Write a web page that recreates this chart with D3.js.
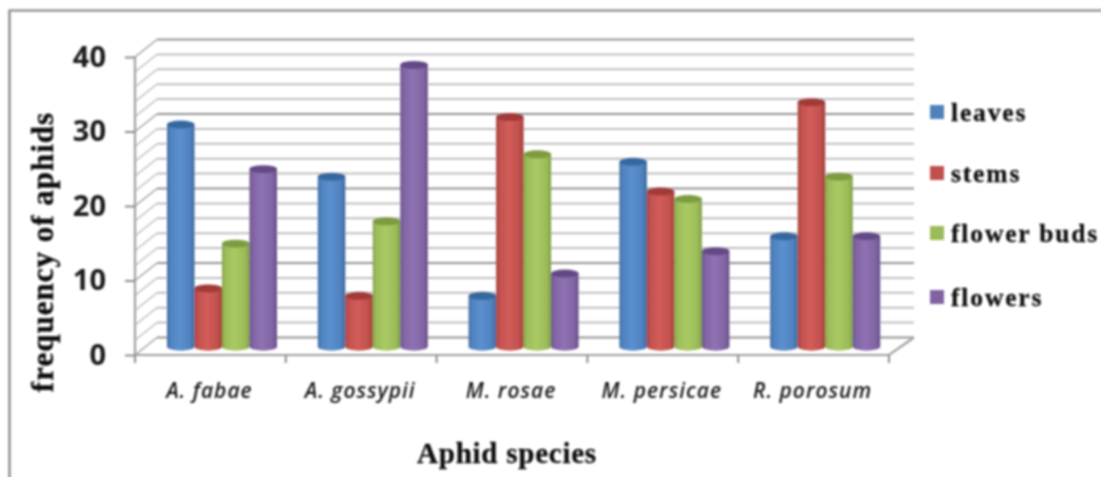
<!DOCTYPE html>
<html><head><meta charset="utf-8">
<script src="https://cdn.jsdelivr.net/npm/d3@7/dist/d3.min.js"></script>
<style>html,body{margin:0;padding:0;background:#fff;overflow:hidden}svg{display:block}</style>
</head><body><div id="c"></div>
<script>
const categories = ["A. fabae","A. gossypii","M. rosae","M. persicae","R. porosum"];
const seriesNames = ["leaves","stems","flower buds","flowers"];
const leaves = [30,23,7,25,15];
const stems = [8,7,31,21,33];
const flowerBuds = [14,17,26,20,23];
const flowers = [24,38,10,13,15];
const seriesValues = [leaves,stems,flowerBuds,flowers];
const colors = ["#4F81BD","#C0504D","#9BBB59","#8064A2"];
const darks = ["#36689f","#a23a37","#7d9c3f","#644a86"];
const lights = ["#5b90cf","#d25d5a","#a9ca63","#8f72b3"];
const yTicks = [0,10,20,30,40];
const W=1101,H=477;
const svg=d3.select("#c").append("svg").attr("width",W).attr("height",H);
const defs=svg.append("defs");
defs.append("filter").attr("id","soft").attr("x","-5%").attr("y","-5%").attr("width","110%").attr("height","110%")
  .append("feGaussianBlur").attr("stdDeviation",0.85);
colors.forEach((c,i)=>{
  const g=defs.append("linearGradient").attr("id","g"+i);
  [[0,darks[i]],[0.1,c],[0.45,lights[i]],[0.85,c],[1,darks[i]]].forEach(s=>g.append("stop").attr("offset",s[0]).attr("stop-color",s[1]));
});
const root=svg.append("g").attr("filter","url(#soft)");
root.append("path").attr("d",`M9.5,${H+5}V10.5H${W+5}`).attr("fill","none").attr("stroke","#808080").attr("stroke-width",2.2);
const left=135,right=889,depthX=25,depthY=17.5;
const x=d3.scaleBand().domain(categories).range([left,right]);
const y=d3.scaleLinear().domain([0,40]).range([355,57]);
const gridVals=d3.range(0,41,2);
const grid=root.append("g");
gridVals.forEach(v=>{
  const major=v%10===0;
  const col=major?"#949494":"#c0c0c0";
  grid.append("path").attr("d",`M${left},${y(v)}L${left+22},${y(v)-depthY}`).attr("fill","none").attr("stroke",major?"#a0a0a0":"#c4c4c4").attr("stroke-width",1.5);
  grid.append("path").attr("d",`M${left+22},${y(v)-depthY}H${right+depthX}`).attr("fill","none").attr("stroke",col).attr("stroke-width",2);
});
root.append("path").attr("d",`M${left},${y(40)}V${y(0)}H${right}L${right+depthX},${y(0)-depthY}`).attr("fill","none").attr("stroke","#a0a0a0").attr("stroke-width",2.2);
const yAxis=root.append("g").attr("transform",`translate(${left},0)`).call(d3.axisLeft(y).tickValues(yTicks).tickSize(10).tickPadding(19));
yAxis.select(".domain").remove();
yAxis.selectAll("line").attr("stroke","#8c8c8c").attr("stroke-width",2);
yAxis.selectAll("text").attr("font-family","'Open Sans'").attr("font-weight",700).attr("font-size",29).attr("fill","#1a1a1a");
const xTickPos=[...categories.map(c=>x(c)),right];
xTickPos.forEach(p=>root.append("line").attr("x1",p).attr("x2",p).attr("y1",y(0)).attr("y2",y(0)+8).attr("stroke","#8c8c8c").attr("stroke-width",2));
root.selectAll(".cat").data(categories).join("text").attr("class","cat")
  .attr("x",d=>x(d)+x.bandwidth()/2-1).attr("y",398).attr("text-anchor","middle")
  .attr("font-family","'Open Sans'").attr("font-weight",600).attr("font-style","italic").attr("font-size",21).attr("letter-spacing",1).attr("fill","#1a1a1a").text(d=>d);
const bw=27.5, gOff=32, topOff=7, baseOff=8, rx=13.8, ry=4;
const h=d=>y(0)-y(d);
seriesValues.forEach((vals,si)=>{
  const g=root.append("g");
  vals.forEach((v,ci)=>{
    const x0=x(categories[ci])+gOff+si*bw, top=y(0)-topOff-h(v), base=y(0)-baseOff;
    g.append("path").attr("d",`M${x0},${top}V${base}A${rx},${ry} 0 0 0 ${x0+bw},${base}V${top}Z`).attr("fill",`url(#g${si})`);
    g.append("ellipse").attr("cx",x0+bw/2).attr("cy",top).attr("rx",rx).attr("ry",ry).attr("fill",darks[si]);
  });
});
const legendY=[112,173,233,297];
seriesNames.forEach((n,i)=>{
  root.append("rect").attr("x",930).attr("y",legendY[i]-7).attr("width",14).attr("height",14).attr("fill",colors[i]);
  root.append("text").attr("x",951).attr("y",legendY[i]+9).attr("font-family","'Liberation Serif'").attr("font-weight",700)
    .attr("font-size",25.5).attr("letter-spacing",1.85).attr("fill","#111").attr("stroke","#111").attr("stroke-width",0.3).text(n);
});
root.append("text").attr("x",507).attr("y",463).attr("text-anchor","middle").attr("font-family","'Liberation Serif'").attr("font-weight",700)
  .attr("font-size",29).attr("letter-spacing",0.75).attr("fill","#111").attr("stroke","#111").attr("stroke-width",0.3).text("Aphid species");
root.append("text").attr("transform","translate(53,252) rotate(-90)").attr("text-anchor","middle").attr("font-family","'Liberation Serif'").attr("font-weight",700)
  .attr("font-size",31).attr("letter-spacing",1).attr("fill","#111").attr("stroke","#111").attr("stroke-width",0.4).text("frequency of aphids");
</script></body></html>
